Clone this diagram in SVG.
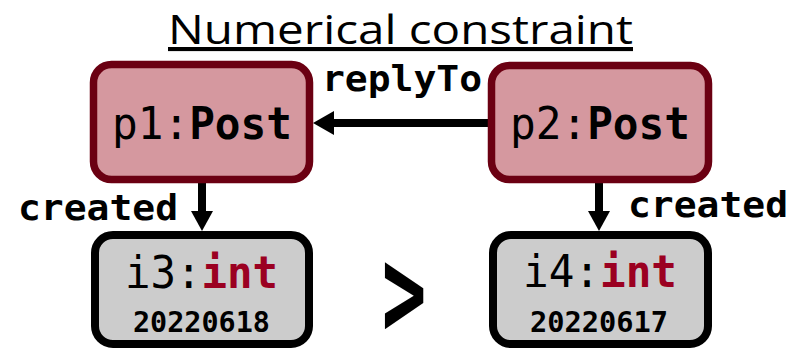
<svg xmlns="http://www.w3.org/2000/svg" width="794" height="352" viewBox="0 0 794 352">
<style>
.post{fill:#d5989f;stroke:#6b0012;stroke-width:7.5}
.val{fill:#cccccc;stroke:#000;stroke-width:8}
.mono{font-family:"DejaVu Sans Mono","Liberation Mono",monospace;fill:#000}
.b{font-weight:bold}
.red{fill:#9b0021}
.edge{stroke:#000;stroke-width:8;fill:none}
.head{fill:#000}
.title{font-family:"Open Sans","Noto Sans",sans-serif;font-size:41px;text-decoration:underline;fill:#000}
</style>
<rect width="794" height="352" fill="#fff"/>
<text class="title" x="168" y="44" textLength="465" lengthAdjust="spacingAndGlyphs">Numerical constraint</text>
<g id="connectors">
  <g id="e-replyTo">
    <line class="edge" x1="488" y1="123" x2="330" y2="123"/>
    <polygon class="head" points="313,123 334,111 334,135"/>
    <text class="mono b" x="322" y="91" font-size="35" textLength="160" lengthAdjust="spacingAndGlyphs">replyTo</text>
  </g>
  <g id="e-created1">
    <line class="edge" x1="202" y1="183" x2="202" y2="215"/>
    <polygon class="head" points="202,231 191,211 213,211"/>
    <text class="mono b" x="18" y="220" font-size="35" textLength="160" lengthAdjust="spacingAndGlyphs">created</text>
  </g>
  <g id="e-created2">
    <line class="edge" x1="599" y1="183" x2="599" y2="215"/>
    <polygon class="head" points="599,231 588,211 610,211"/>
    <text class="mono b" x="628" y="217" font-size="35" textLength="160" lengthAdjust="spacingAndGlyphs">created</text>
  </g>
</g>
<g id="p1">
  <rect class="post" x="93.5" y="64.5" width="216" height="115" rx="18"/>
  <text class="mono" x="112" y="139" font-size="44" textLength="180" lengthAdjust="spacingAndGlyphs">p1:<tspan class="b">Post</tspan></text>
</g>
<g id="p2">
  <rect class="post" x="491.5" y="65.5" width="217" height="114" rx="18"/>
  <text class="mono" x="510" y="139" font-size="44" textLength="180" lengthAdjust="spacingAndGlyphs">p2:<tspan class="b">Post</tspan></text>
</g>
<g id="i3">
  <rect class="val" x="95" y="235" width="214" height="109" rx="18"/>
  <text class="mono" x="125" y="288" font-size="44" textLength="153" lengthAdjust="spacingAndGlyphs">i3:<tspan class="b red">int</tspan></text>
  <text class="mono b" x="133" y="332" font-size="29" textLength="137" lengthAdjust="spacingAndGlyphs">20220618</text>
</g>
<g id="i4">
  <rect class="val" x="493" y="235" width="215" height="109" rx="18"/>
  <text class="mono" x="523" y="287" font-size="44" textLength="154" lengthAdjust="spacingAndGlyphs">i4:<tspan class="b red">int</tspan></text>
  <text class="mono b" x="530" y="332" font-size="29" textLength="138" lengthAdjust="spacingAndGlyphs">20220617</text>
</g>
<g id="gt">
  <text class="mono b" transform="translate(404,336) scale(0.58,1)" font-size="128" text-anchor="middle">&gt;</text>
</g>
</svg>
